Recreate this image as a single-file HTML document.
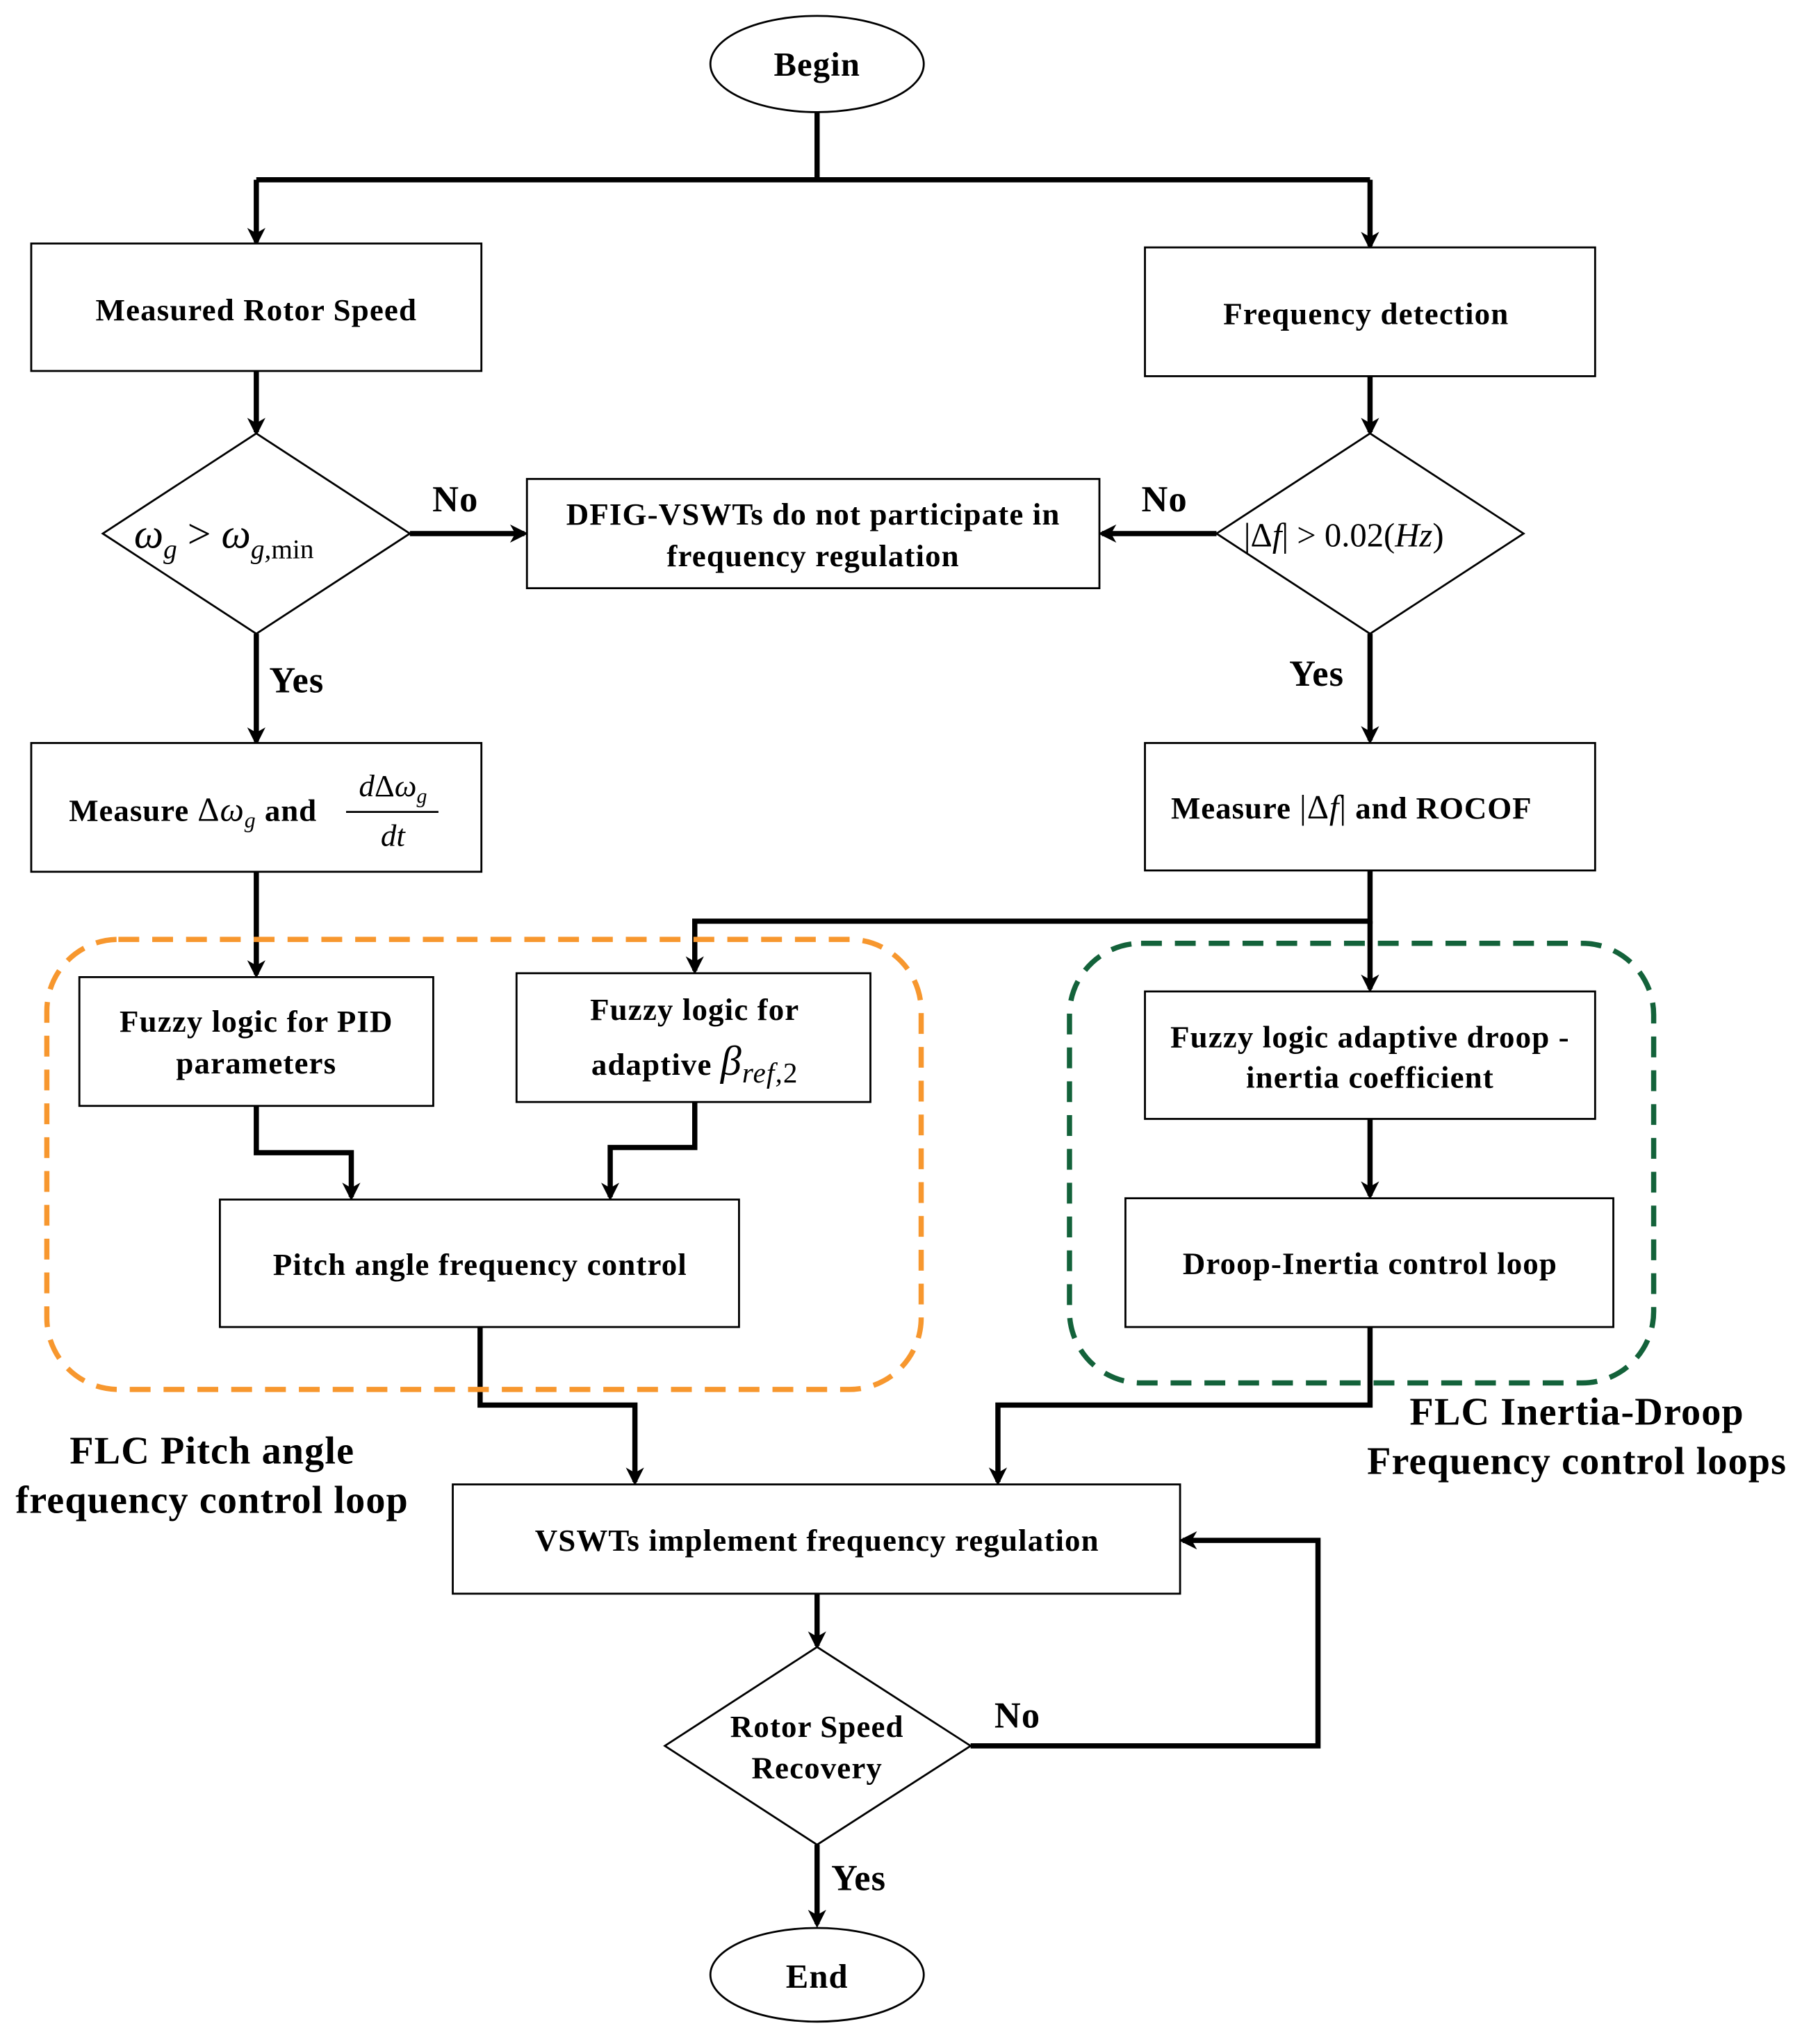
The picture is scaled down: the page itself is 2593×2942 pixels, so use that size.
<!DOCTYPE html>
<html><head><meta charset="utf-8"><style>html,body{margin:0;padding:0;background:#fff}svg{display:block}</style></head>
<body>
<svg width="2593" height="2942" viewBox="0 0 1385 1571" xmlns="http://www.w3.org/2000/svg" font-family="'Liberation Serif', serif">
<defs>
<marker id="a" markerWidth="14" markerHeight="14" refX="11" refY="7" orient="auto" markerUnits="userSpaceOnUse" viewBox="0 0 14 14">
<path d="M0,0 L14,7 L0,14 L4,7 z" fill="#000"/></marker>
</defs>
<g fill="none" stroke="#000" stroke-width="4">
<path d="M628,86 V138 M197,138 H1053"/>
<path d="M197,138 V186" marker-end="url(#a)"/>
<path d="M1053,138 V189" marker-end="url(#a)"/>
<path d="M197,285 V332" marker-end="url(#a)"/>
<path d="M1053,289 V332" marker-end="url(#a)"/>
<path d="M315,410 H403" marker-end="url(#a)"/>
<path d="M935,410 H847" marker-end="url(#a)"/>
<path d="M197,487 V570" marker-end="url(#a)"/>
<path d="M1053,487 V569" marker-end="url(#a)"/>
<path d="M197,670 V749" marker-end="url(#a)"/>
<path d="M1053,669 V708 H534 V746" marker-end="url(#a)"/>
<path d="M1053,708 V760" marker-end="url(#a)"/>
<path d="M197,850 V886 H270 V920" marker-end="url(#a)"/>
<path d="M534,847 V882 H469 V920" marker-end="url(#a)"/>
<path d="M1053,860 V919" marker-end="url(#a)"/>
<path d="M369,1020 V1080 H488 V1139" marker-end="url(#a)"/>
<path d="M1053,1020 V1080 H767 V1139" marker-end="url(#a)"/>
<path d="M628,1225 V1265" marker-end="url(#a)"/>
<path d="M746,1342 H1013 V1184 H909" marker-end="url(#a)"/>
<path d="M628,1418 V1479" marker-end="url(#a)"/>
</g>
<g fill="#fff" stroke="#000" stroke-width="1.5">
<ellipse cx="628" cy="49" rx="82" ry="37"/>
<rect x="24" y="187" width="346" height="98"/>
<rect x="880" y="190" width="346" height="99"/>
<polygon points="197,333 315,410 197,487 79,410"/>
<polygon points="1053,333 1171,410 1053,487 935,410"/>
<rect x="405" y="368" width="440" height="84"/>
<rect x="24" y="571" width="346" height="99"/>
<rect x="880" y="571" width="346" height="98"/>
<rect x="61" y="751" width="272" height="99"/>
<rect x="397" y="748" width="272" height="99"/>
<rect x="880" y="762" width="346" height="98"/>
<rect x="169" y="922" width="399" height="98"/>
<rect x="865" y="921" width="375" height="99"/>
<rect x="348" y="1141" width="559" height="84"/>
<polygon points="628,1266 746,1342 628,1418 511,1342"/>
<ellipse cx="628" cy="1518" rx="82" ry="36"/>
</g>
<rect x="36" y="722" width="672" height="346" rx="55" fill="none" stroke="#f7972e" stroke-width="4" stroke-dasharray="16,10"/>
<rect x="822" y="725" width="449" height="338" rx="55" fill="none" stroke="#13623a" stroke-width="4" stroke-dasharray="16,10"/>
<g font-weight="bold" font-size="24" letter-spacing="0.6" text-anchor="middle" fill="#000">
<text x="628" y="58" font-size="26">Begin</text>
<text x="197" y="246">Measured Rotor Speed</text>
<text x="1050" y="249">Frequency detection</text>
<text x="625" y="403">DFIG-VSWTs do not participate in</text>
<text x="625" y="435">frequency regulation</text>
<text x="197" y="793">Fuzzy logic for PID</text>
<text x="197" y="825">parameters</text>
<text x="534" y="784">Fuzzy logic for</text>
<text x="534" y="826">adaptive <tspan font-style="italic" font-weight="normal" font-size="32">β</tspan><tspan font-style="italic" font-weight="normal" font-size="22" dy="6">ref,</tspan><tspan font-weight="normal" font-size="22">2</tspan></text>
<text x="1053" y="805">Fuzzy logic adaptive droop -</text>
<text x="1053" y="836">inertia coefficient</text>
<text x="369" y="980">Pitch angle frequency control</text>
<text x="1053" y="979">Droop-Inertia control loop</text>
<text x="628" y="1192">VSWTs implement frequency regulation</text>
<text x="628" y="1335">Rotor Speed</text>
<text x="628" y="1367">Recovery</text>
<text x="628" y="1528" font-size="26">End</text>
<text x="350" y="393" font-size="28">No</text>
<text x="895" y="393" font-size="28">No</text>
<text x="782" y="1328" font-size="28">No</text>
<text x="228" y="532" font-size="28">Yes</text>
<text x="1012" y="527" font-size="28">Yes</text>
<text x="660" y="1453" font-size="28">Yes</text>
<text x="163" y="1125" font-size="30">FLC Pitch angle</text>
<text x="163" y="1163" font-size="30">frequency control loop</text>
<text x="1212" y="1095" font-size="30">FLC Inertia-Droop</text>
<text x="1212" y="1133" font-size="30">Frequency control loops</text>
</g>
<g font-size="26" fill="#000">
<text x="103" y="421" font-style="italic" font-size="32">ω<tspan font-size="21" dy="8">g</tspan><tspan font-style="normal" dy="-8"> &gt; </tspan>ω<tspan font-size="21" dy="8">g,</tspan><tspan font-style="normal" font-size="21">min</tspan></text>
<text x="956" y="420">|Δ<tspan font-style="italic">f</tspan>| &gt; 0.02(<tspan font-style="italic">Hz</tspan>)</text>
<text x="53" y="631" font-weight="bold" font-size="24" letter-spacing="0.5">Measure <tspan font-weight="normal" font-size="26">Δ<tspan font-style="italic">ω</tspan><tspan font-style="italic" font-size="17" dy="5">g</tspan></tspan><tspan dy="-5"> and</tspan></text>
<text x="302" y="612" text-anchor="middle" font-style="italic" font-size="24">d<tspan font-style="normal">Δ</tspan>ω<tspan font-size="16" dy="5">g</tspan></text>
<line x1="266" y1="624" x2="337" y2="624" stroke="#000" stroke-width="1.5"/>
<text x="302" y="650" text-anchor="middle" font-style="italic" font-size="24">dt</text>
<text x="900" y="629" font-weight="bold" font-size="24" letter-spacing="0.5">Measure <tspan font-weight="normal" font-size="26">|Δ<tspan font-style="italic">f</tspan>|</tspan> and ROCOF</text>
</g>
</svg>
</body></html>
